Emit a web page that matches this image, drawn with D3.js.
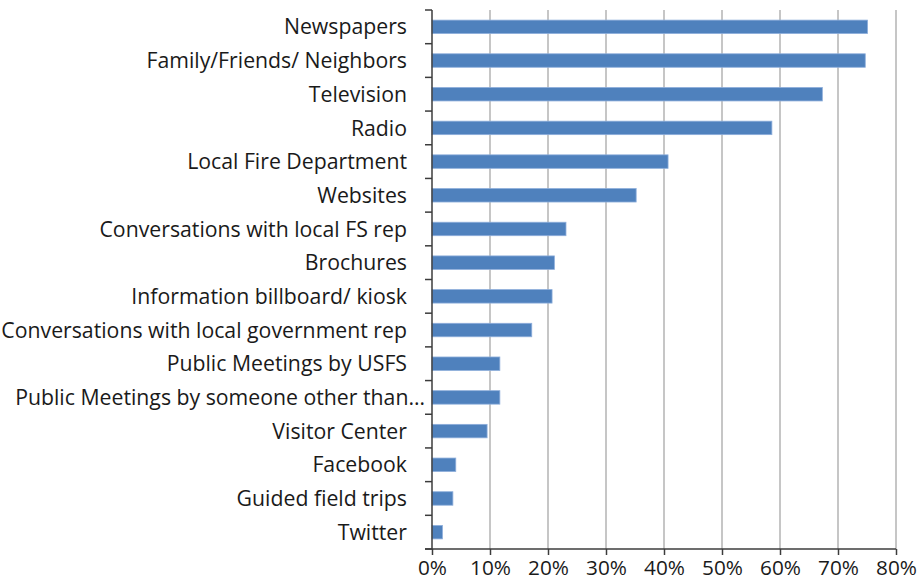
<!DOCTYPE html>
<html>
<head>
<meta charset="utf-8">
<script src="https://cdn.jsdelivr.net/npm/d3@7"></script>
<style>
  html, body { margin: 0; padding: 0; background: #fff; }
  svg { display: block; }
  text { font-family: "Open Sans", Lato, sans-serif; fill: #1a1a1a; }
</style>
</head>
<body>
<svg id="chart" width="920" height="584"></svg>
<script>
// Information sources, top to bottom
const categories = [
  "Newspapers",
  "Family/Friends/ Neighbors",
  "Television",
  "Radio",
  "Local Fire Department",
  "Websites",
  "Conversations with local FS rep",
  "Brochures",
  "Information billboard/ kiosk",
  "Conversations with local government rep",
  "Public Meetings by USFS",
  "Public Meetings by someone other than…",
  "Visitor Center",
  "Facebook",
  "Guided field trips",
  "Twitter"
];
// Share of respondents (%)
const shares = [75.1, 74.7, 67.3, 58.6, 40.7, 35.2, 23.1, 21.1, 20.7, 17.2, 11.7, 11.7, 9.5, 4.1, 3.6, 1.8];
const tickValues = [0, 10, 20, 30, 40, 50, 60, 70, 80];

const data = categories.map((c, i) => ({ name: c, value: shares[i] }));

const svg = d3.select("#chart");
const margin = { left: 432, right: 24, top: 10, bottom: 35 };
const W = 920, H = 584;

const x = d3.scaleLinear().domain([0, 80]).range([margin.left, W - margin.right]);
const y = d3.scaleBand().domain(categories).range([margin.top, H - margin.bottom]).paddingInner(0.6).paddingOuter(0.3);

// Vertical gridlines
svg.append("g")
  .selectAll("line")
  .data(tickValues.slice(1))
  .join("line")
  .attr("x1", d => x(d)).attr("x2", d => x(d))
  .attr("y1", margin.top).attr("y2", H - margin.bottom)
  .attr("stroke", "#b3b3b3")
  .attr("stroke-width", 1.5);

// Bars
svg.append("g")
  .selectAll("rect")
  .data(data)
  .join("rect")
  .attr("x", x(0))
  .attr("y", d => y(d.name))
  .attr("width", d => x(d.value) - x(0))
  .attr("height", y.bandwidth())
  .attr("fill", "#4f81bd")
  .attr("stroke", "#8eaedb")
  .attr("stroke-width", 0.8);

// Category axis with boundary ticks between bands
const bounds = d3.range(categories.length + 1).map(i => margin.top + i * (H - margin.bottom - margin.top) / categories.length);
const yAxisG = svg.append("g");
yAxisG.append("line")
  .attr("x1", x(0)).attr("x2", x(0))
  .attr("y1", margin.top).attr("y2", H - margin.bottom)
  .attr("stroke", "#3c3c3c").attr("stroke-width", 1.5);
yAxisG.selectAll("line.tk")
  .data(bounds)
  .join("line")
  .attr("class", "tk")
  .attr("x1", x(0) - 7).attr("x2", x(0))
  .attr("y1", d => d).attr("y2", d => d)
  .attr("stroke", "#3c3c3c").attr("stroke-width", 1.5);
const labels = yAxisG.selectAll("text")
  .data(categories)
  .join("text")
  .attr("x", d => d.endsWith("…") ? x(0) - 7 : x(0) - 25)
  .attr("y", d => y(d) + y.bandwidth() / 2)
  .attr("dy", "0.36em")
  .attr("text-anchor", "end")
  .attr("font-size", 18)
  .text(d => d);

// Size the category labels so the longest one fills the left margin
const longest = labels.filter(d => d.endsWith("…")).node();
const fitSize = 18 * 410 / longest.getComputedTextLength();
labels.attr("font-size", fitSize);

// Value axis
const xAxis = d3.axisBottom(x)
  .tickValues(tickValues)
  .tickFormat(d => d + "%")
  .tickSize(6)
  .tickSizeOuter(0)
  .tickPadding(5);
const xg = svg.append("g")
  .attr("transform", `translate(0,${H - margin.bottom})`)
  .call(xAxis);
xg.select(".domain").attr("stroke", "#3c3c3c").attr("stroke-width", 1.5)
  .attr("d", `M${x(0) - 7},0H${x(80)}`);
xg.selectAll(".tick line").attr("stroke", "#3c3c3c").attr("stroke-width", 1.5);
xg.selectAll(".tick text").attr("font-size", fitSize - 0.5).attr("fill", "#1a1a1a")
  .style("font-family", '"Open Sans", Lato, sans-serif');
</script>
</body>
</html>
